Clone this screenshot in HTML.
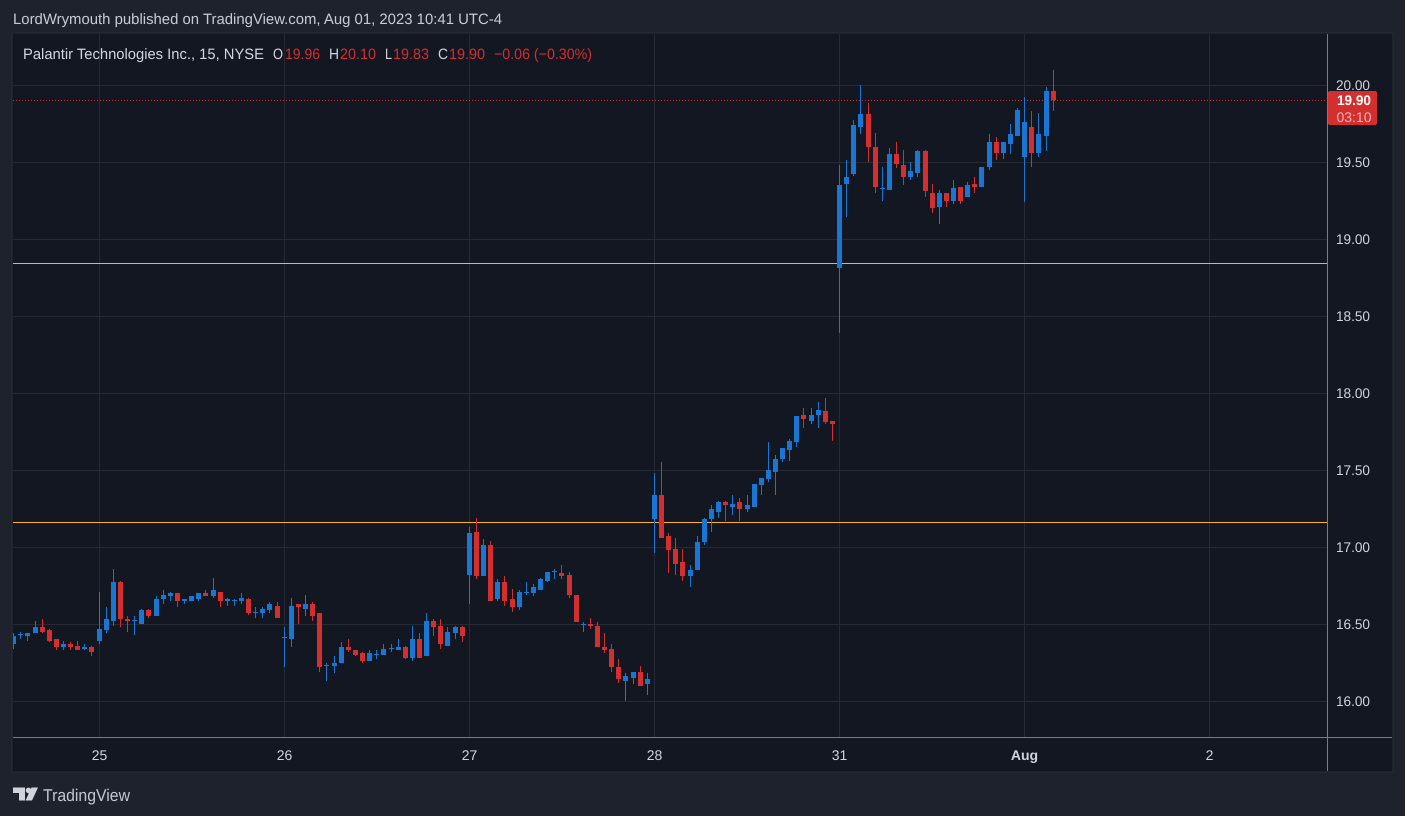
<!DOCTYPE html>
<html lang="en">
<head>
<meta charset="utf-8">
<title>Palantir Technologies Inc. 15 min chart</title>
<style>
html,body{margin:0;padding:0;background:#1e222d;width:1405px;height:816px;overflow:hidden}
svg{display:block}
text{font-family:"Liberation Sans",sans-serif}
</style>
</head>
<body>
<svg id="chart" xmlns="http://www.w3.org/2000/svg" width="1405" height="816" viewBox="0 0 1405 816" shape-rendering="crispEdges">
  <rect x="0" y="0" width="1405" height="816" fill="#1e222d"/>
  <text x="13" y="24" font-size="15" fill="#c8cbd3" textLength="489" lengthAdjust="spacingAndGlyphs" text-rendering="geometricPrecision">LordWrymouth published on TradingView.com, Aug 01, 2023 10:41 UTC-4</text>
  <rect x="12" y="33" width="1381" height="739" fill="#131722" stroke="#2a2e39" stroke-width="1"/>
  <g id="grid"></g>
  <g id="levels"></g>
  <g id="candles"></g>
  <g id="axes"></g>
  <g font-size="15" text-rendering="geometricPrecision">
    <text x="23" y="59" fill="#d1d4dc" textLength="241" lengthAdjust="spacingAndGlyphs">Palantir Technologies Inc., 15, NYSE</text>
    <text x="273" y="59" fill="#d1d4dc" textLength="10" lengthAdjust="spacingAndGlyphs">O</text>
    <text x="285" y="59" fill="#d32f2f" textLength="35" lengthAdjust="spacingAndGlyphs">19.96</text>
    <text x="329" y="59" fill="#d1d4dc" textLength="10" lengthAdjust="spacingAndGlyphs">H</text>
    <text x="340" y="59" fill="#d32f2f" textLength="36" lengthAdjust="spacingAndGlyphs">20.10</text>
    <text x="385" y="59" fill="#d1d4dc" textLength="7" lengthAdjust="spacingAndGlyphs">L</text>
    <text x="393" y="59" fill="#d32f2f" textLength="36" lengthAdjust="spacingAndGlyphs">19.83</text>
    <text x="438" y="59" fill="#d1d4dc" textLength="10" lengthAdjust="spacingAndGlyphs">C</text>
    <text x="449" y="59" fill="#d32f2f" textLength="36" lengthAdjust="spacingAndGlyphs">19.90</text>
    <text x="494" y="59" fill="#d32f2f" textLength="98" lengthAdjust="spacingAndGlyphs">−0.06 (−0.30%)</text>
  </g>
  <g>
    <rect x="1328" y="91" width="49" height="34" rx="2" fill="#d32f2f"/>
    <text x="1354" y="105" font-size="14" font-weight="bold" fill="#ffffff" text-anchor="middle" textLength="34" lengthAdjust="spacingAndGlyphs" text-rendering="geometricPrecision">19.90</text>
    <text x="1354" y="122" font-size="14" fill="#f2b5b5" text-anchor="middle" textLength="35" lengthAdjust="spacingAndGlyphs" text-rendering="geometricPrecision">03:10</text>
  </g>
  <g>
    <g fill="#d1d4dc" shape-rendering="geometricPrecision">
      <path d="M13 787.5H25V800.5H19V793H13Z"/>
      <circle cx="28.5" cy="790.4" r="2.8"/>
      <path d="M31.5 787.5H38L32 800.5H25.5Z"/>
    </g>
    <text x="43" y="801" font-size="17" fill="#c3c6ce" textLength="87" lengthAdjust="spacingAndGlyphs" text-rendering="geometricPrecision">TradingView</text>
  </g>
</svg>
<script>
// Chart values
const opens = [
16.37,16.43,16.42,16.44,16.48,16.46,16.40,16.35,16.37,16.36,16.34,16.35,
16.39,16.46,16.52,16.77,16.53,16.52,16.50,16.59,16.55,16.66,16.68,16.70,16.65,16.65,16.66,16.70,16.68,16.71,16.65,16.65,16.65,16.66,16.57,16.57,16.59,16.62,
16.41,16.40,16.63,16.60,16.63,16.57,16.23,16.23,16.25,16.35,16.33,16.31,16.26,16.30,16.30,16.34,16.33,16.35,16.28,16.40,16.29,16.52,16.49,16.36,16.44,16.48,
16.82,17.10,16.81,17.01,16.66,16.77,16.66,16.61,16.70,16.70,16.72,16.78,16.84,16.83,16.82,16.69,16.50,16.50,16.49,16.35,16.34,16.22,16.13,16.15,16.19,16.11,
17.18,17.34,17.07,16.99,16.90,16.81,16.85,17.03,17.18,17.23,17.29,17.26,17.29,17.25,17.26,17.40,17.44,17.49,17.57,17.63,17.68,17.86,17.82,17.86,17.88,17.82,
18.81,19.36,19.42,19.73,19.81,19.60,19.33,19.32,19.55,19.48,19.40,19.43,19.57,19.30,19.21,19.30,19.25,19.34,19.27,19.36,19.34,19.47,19.63,19.56,19.62,19.67,
19.53,19.73,19.56,19.67,19.96];
const highs = [
16.44,16.45,16.44,16.52,16.53,16.47,16.40,16.39,16.38,16.39,16.37,16.36,
16.71,16.61,16.86,16.78,16.55,16.55,16.60,16.60,16.68,16.72,16.71,16.70,16.66,16.68,16.70,16.72,16.80,16.71,16.67,16.66,16.70,16.67,16.61,16.61,16.64,16.64,
16.48,16.67,16.63,16.69,16.64,16.57,16.25,16.29,16.38,16.40,16.33,16.32,16.33,16.33,16.37,16.37,16.40,16.36,16.49,16.44,16.57,16.53,16.53,16.48,16.49,16.49,
17.13,17.19,17.05,17.04,16.79,16.81,16.73,16.72,16.77,16.76,16.80,16.84,16.86,16.88,16.84,16.69,16.51,16.54,16.51,16.44,16.37,16.27,16.18,16.19,16.23,16.18,
17.48,17.55,17.09,17.06,16.99,16.88,17.07,17.19,17.27,17.30,17.30,17.34,17.32,17.34,17.41,17.45,17.68,17.60,17.64,17.70,17.85,17.90,17.90,17.94,17.97,17.82,
19.48,19.51,19.77,20.00,19.88,19.69,19.47,19.59,19.63,19.58,19.50,19.58,19.58,19.36,19.32,19.30,19.38,19.34,19.37,19.40,19.47,19.68,19.66,19.63,19.75,19.85,
19.92,19.83,19.82,19.99,20.10];
const lows = [
16.34,16.40,16.39,16.44,16.44,16.38,16.33,16.33,16.33,16.33,16.33,16.29,
16.37,16.44,16.49,16.48,16.45,16.43,16.50,16.54,16.55,16.63,16.65,16.61,16.63,16.65,16.65,16.68,16.67,16.61,16.62,16.62,16.63,16.56,16.54,16.54,16.57,16.54,
16.22,16.35,16.50,16.55,16.52,16.19,16.13,16.18,16.25,16.32,16.29,16.25,16.26,16.27,16.30,16.32,16.33,16.27,16.26,16.28,16.29,16.42,16.34,16.36,16.40,16.38,
16.63,16.79,16.81,16.65,16.65,16.62,16.58,16.59,16.69,16.68,16.72,16.77,16.79,16.79,16.67,16.51,16.45,16.47,16.35,16.31,16.19,16.12,16.00,16.11,16.10,16.04,
16.96,17.06,16.83,16.82,16.78,16.74,16.85,17.01,17.10,17.19,17.17,17.21,17.17,17.23,17.26,17.34,17.42,17.34,17.55,17.56,17.65,17.77,17.80,17.77,17.80,17.69,
18.39,19.14,19.41,19.68,19.50,19.30,19.25,19.32,19.46,19.35,19.38,19.40,19.27,19.17,19.10,19.21,19.23,19.23,19.27,19.30,19.34,19.45,19.51,19.52,19.55,19.67,
19.24,19.47,19.53,19.57,19.83];
const closes = [
16.42,16.43,16.44,16.48,16.45,16.39,16.35,16.37,16.35,16.33,16.35,16.32,
16.47,16.53,16.77,16.53,16.52,16.52,16.59,16.55,16.66,16.69,16.70,16.65,16.66,16.68,16.70,16.68,16.72,16.65,16.66,16.65,16.67,16.57,16.58,16.60,16.63,16.54,
16.41,16.62,16.61,16.63,16.55,16.22,16.23,16.25,16.35,16.33,16.30,16.26,16.31,16.30,16.34,16.34,16.35,16.28,16.40,16.28,16.52,16.48,16.37,16.45,16.48,16.42,
17.09,16.81,17.01,16.65,16.77,16.65,16.61,16.71,16.71,16.74,16.79,16.84,16.84,16.81,16.69,16.51,16.50,16.49,16.35,16.33,16.22,16.14,16.16,16.19,16.10,16.14,
17.34,17.06,16.98,16.89,16.81,16.85,17.03,17.18,17.25,17.29,17.27,17.28,17.25,17.27,17.41,17.45,17.50,17.57,17.64,17.69,17.85,17.83,17.86,17.89,17.81,17.80,
19.35,19.40,19.74,19.81,19.60,19.34,19.33,19.55,19.49,19.40,19.44,19.57,19.31,19.20,19.30,19.25,19.33,19.25,19.35,19.34,19.47,19.63,19.56,19.63,19.68,19.84,
19.76,19.56,19.68,19.96,19.90];
const priceTicks = ["20.00","19.50","19.00","18.50","18.00","17.50","17.00","16.50","16.00"];
const dayLabels = ["25","26","27","28","31","Aug","2"];
const dayBarIndex = [12,38,64,90,116,142,168];
const levelPrices = [18.845,17.165];
const lastPrice = 19.90;

const NS = 'http://www.w3.org/2000/svg';
const PANE_LEFT = 13, PANE_RIGHT = 1327, PANE_TOP = 34, AXIS_Y = 737, PANE_BOTTOM = 771;
function yScale(p){ return 85 + (20 - p) * 154; }
function xScale(i){ return 99.1 + (i - 12) * 7.12; }

function make(tag, attrs, parent){
  const el = document.createElementNS(NS, tag);
  for (const k in attrs) el.setAttribute(k, attrs[k]);
  parent.appendChild(el);
  return el;
}
const grid = document.getElementById('grid');
const levels = document.getElementById('levels');
const candles = document.getElementById('candles');
const axes = document.getElementById('axes');

priceTicks.forEach(function(t){
  const y = Math.round(yScale(parseFloat(t)));
  const line = make('rect', {x: PANE_LEFT, y: y, width: PANE_RIGHT - PANE_LEFT, height: 1, fill: '#262a35'}, grid);
  
  
  const label = make('text', {x: 1353, y: y + 5, 'font-size': 14, fill: '#d1d4dc', 'text-anchor': 'middle', textLength: 34, lengthAdjust: 'spacingAndGlyphs', 'text-rendering': 'geometricPrecision'}, axes);
  
  
  label.textContent = t;
});

dayLabels.forEach(function(d, n){
  const x = Math.floor(xScale(dayBarIndex[n]));
  const line = make('rect', {x: x, y: PANE_TOP, width: 1, height: AXIS_Y - PANE_TOP, fill: '#262a35'}, grid);
  
  
  const label = make('text', {x: x + 0.5, y: 760, 'font-size': 14, fill: '#d1d4dc', 'text-anchor': 'middle', 'font-weight': d === 'Aug' ? 'bold' : 'normal', 'text-rendering': 'geometricPrecision'}, axes);
  
  
  label.textContent = d;
});

levelPrices.forEach(function(p){
  const line = make('rect', {x: PANE_LEFT, y: Math.round(yScale(p)), width: PANE_RIGHT - PANE_LEFT, height: 1, fill: '#ffb02e'}, levels);
  
  
});

const lastLine = make('line', {x1: PANE_LEFT, x2: PANE_RIGHT, y1: Math.round(yScale(lastPrice)) + 0.5, y2: Math.round(yScale(lastPrice)) + 0.5, stroke: '#d32f2f', 'stroke-width': 1, 'stroke-dasharray': '1 2'}, levels);



closes.forEach(function(c, i){
  const o = opens[i], color = c >= o ? '#1976d2' : '#d32f2f';
  const col = Math.floor(xScale(i));
  const g = make('g', {}, candles);
  
  
  const hy = Math.round(yScale(highs[i])), ly = Math.round(yScale(lows[i]));
  const wick = make('rect', {x: col, y: hy, width: 1, height: Math.max(1, ly - hy), fill: color}, g);
  
  
  let top = Math.round(yScale(Math.max(o, c)));
  const bottom = Math.round(yScale(Math.min(o, c)));
  if (bottom <= top) top = Math.floor(yScale(Math.max(o, c)));
  const left = Math.max(PANE_LEFT, col - 2), right = col + 3;
  const body = make('rect', {x: left, y: top, width: right - left, height: Math.max(1, bottom - top), fill: color}, g);
  
  
});

const timeAxisLine = make('rect', {x: PANE_LEFT, y: AXIS_Y, width: 1379, height: 1, fill: '#787b86'}, axes);


const priceAxisLine = make('rect', {x: PANE_RIGHT, y: PANE_TOP, width: 1, height: PANE_BOTTOM - PANE_TOP, fill: '#787b86'}, axes);


</script>
</body>
</html>
